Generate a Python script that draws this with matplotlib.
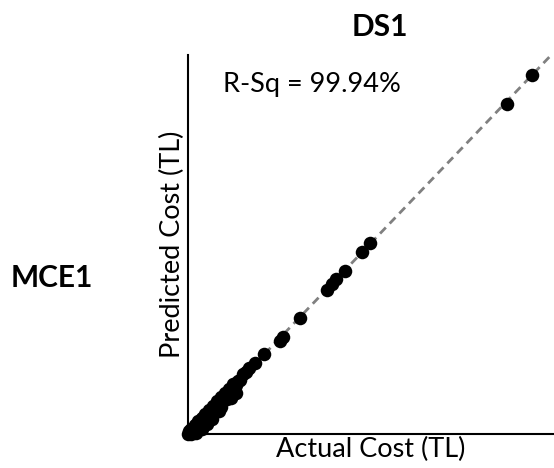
import matplotlib
matplotlib.use("Agg")
import matplotlib.pyplot as plt

plt.rcParams['font.family'] = ['Lato', 'DejaVu Sans']

# actual vs predicted cost (scaled units)
actual = [100.0, 92.7, 52.9, 50.6, 45.6, 43.0, 41.9, 40.4, 32.6, 27.6, 26.7, 22.1, 19.5,
          17.8, 16.9, 16.0, 15.2, 14.5, 13.9, 13.2, 12.6, 12.0, 11.3, 10.8, 10.1, 9.6,
          9.0, 8.5, 7.9, 7.3, 6.8, 6.2, 5.7, 5.1, 4.6, 4.0, 3.5, 3.0, 2.5, 2.0, 1.5,
          1.0, 0.6, 0.3, 0.1, 4.5, 6.5, 8.0, 3.0, 5.5, 9.5, 2.0, 11.5,
          7.0, 9.0, 4.0, 12.5, 5.5, 2.5, 14.0, 1.0]
predicted = [100.0, 91.9, 53.2, 50.7, 45.4, 43.2, 41.8, 40.1, 32.3, 27.0, 25.9, 22.3, 19.8,
             18.5, 17.2, 16.8, 15.0, 14.9, 13.6, 13.8, 12.1, 12.5, 11.0, 11.4, 9.6, 10.2,
             8.6, 9.1, 7.4, 7.9, 6.2, 6.8, 5.0, 5.6, 4.0, 4.6, 2.9, 3.5, 1.8, 2.4, 1.0,
             1.5, 0.4, 0.8, 0.1, 2.5, 4.5, 6.0, 1.2, 3.5, 7.5, 0.5, 9.8,
             4.2, 6.5, 1.5, 10.0, 2.8, 0.2, 11.5, 0.0]
r_sq = 99.94

fig = plt.figure(figsize=(5.54, 4.68), dpi=100)
ax = fig.add_axes([0.339, 0.0726, 0.661, 0.8099])

ax.plot([0, 120], [0, 120], ls=(0, (3, 2)), color='#808080', lw=2, zorder=1)
ax.scatter(actual, predicted, s=95, color='black', zorder=2, clip_on=False, linewidths=0)

ax.set_xlim(0, 106.4)
ax.set_ylim(0, 105.6)
ax.set_xticks([])
ax.set_yticks([])
for side in ['top', 'right']:
    ax.spines[side].set_visible(False)
for side in ['left', 'bottom']:
    ax.spines[side].set_linewidth(1.5)

ax.set_xlabel('Actual Cost (TL)', fontsize=19.5, labelpad=2)
ax.set_ylabel('Predicted Cost (TL)', fontsize=19.5, labelpad=2)
ax.text(0.097, 0.955, 'R-Sq = %.2f%%' % r_sq, transform=ax.transAxes, fontsize=19.5,
        va='top', ha='left')

fig.text(0.686, 0.942, 'DS1', fontsize=21.5, fontweight='bold', ha='center', va='center')
fig.text(0.094, 0.406, 'MCE1', fontsize=21.5, fontweight='bold', ha='center', va='center')

fig.savefig('out.png', dpi=100)
